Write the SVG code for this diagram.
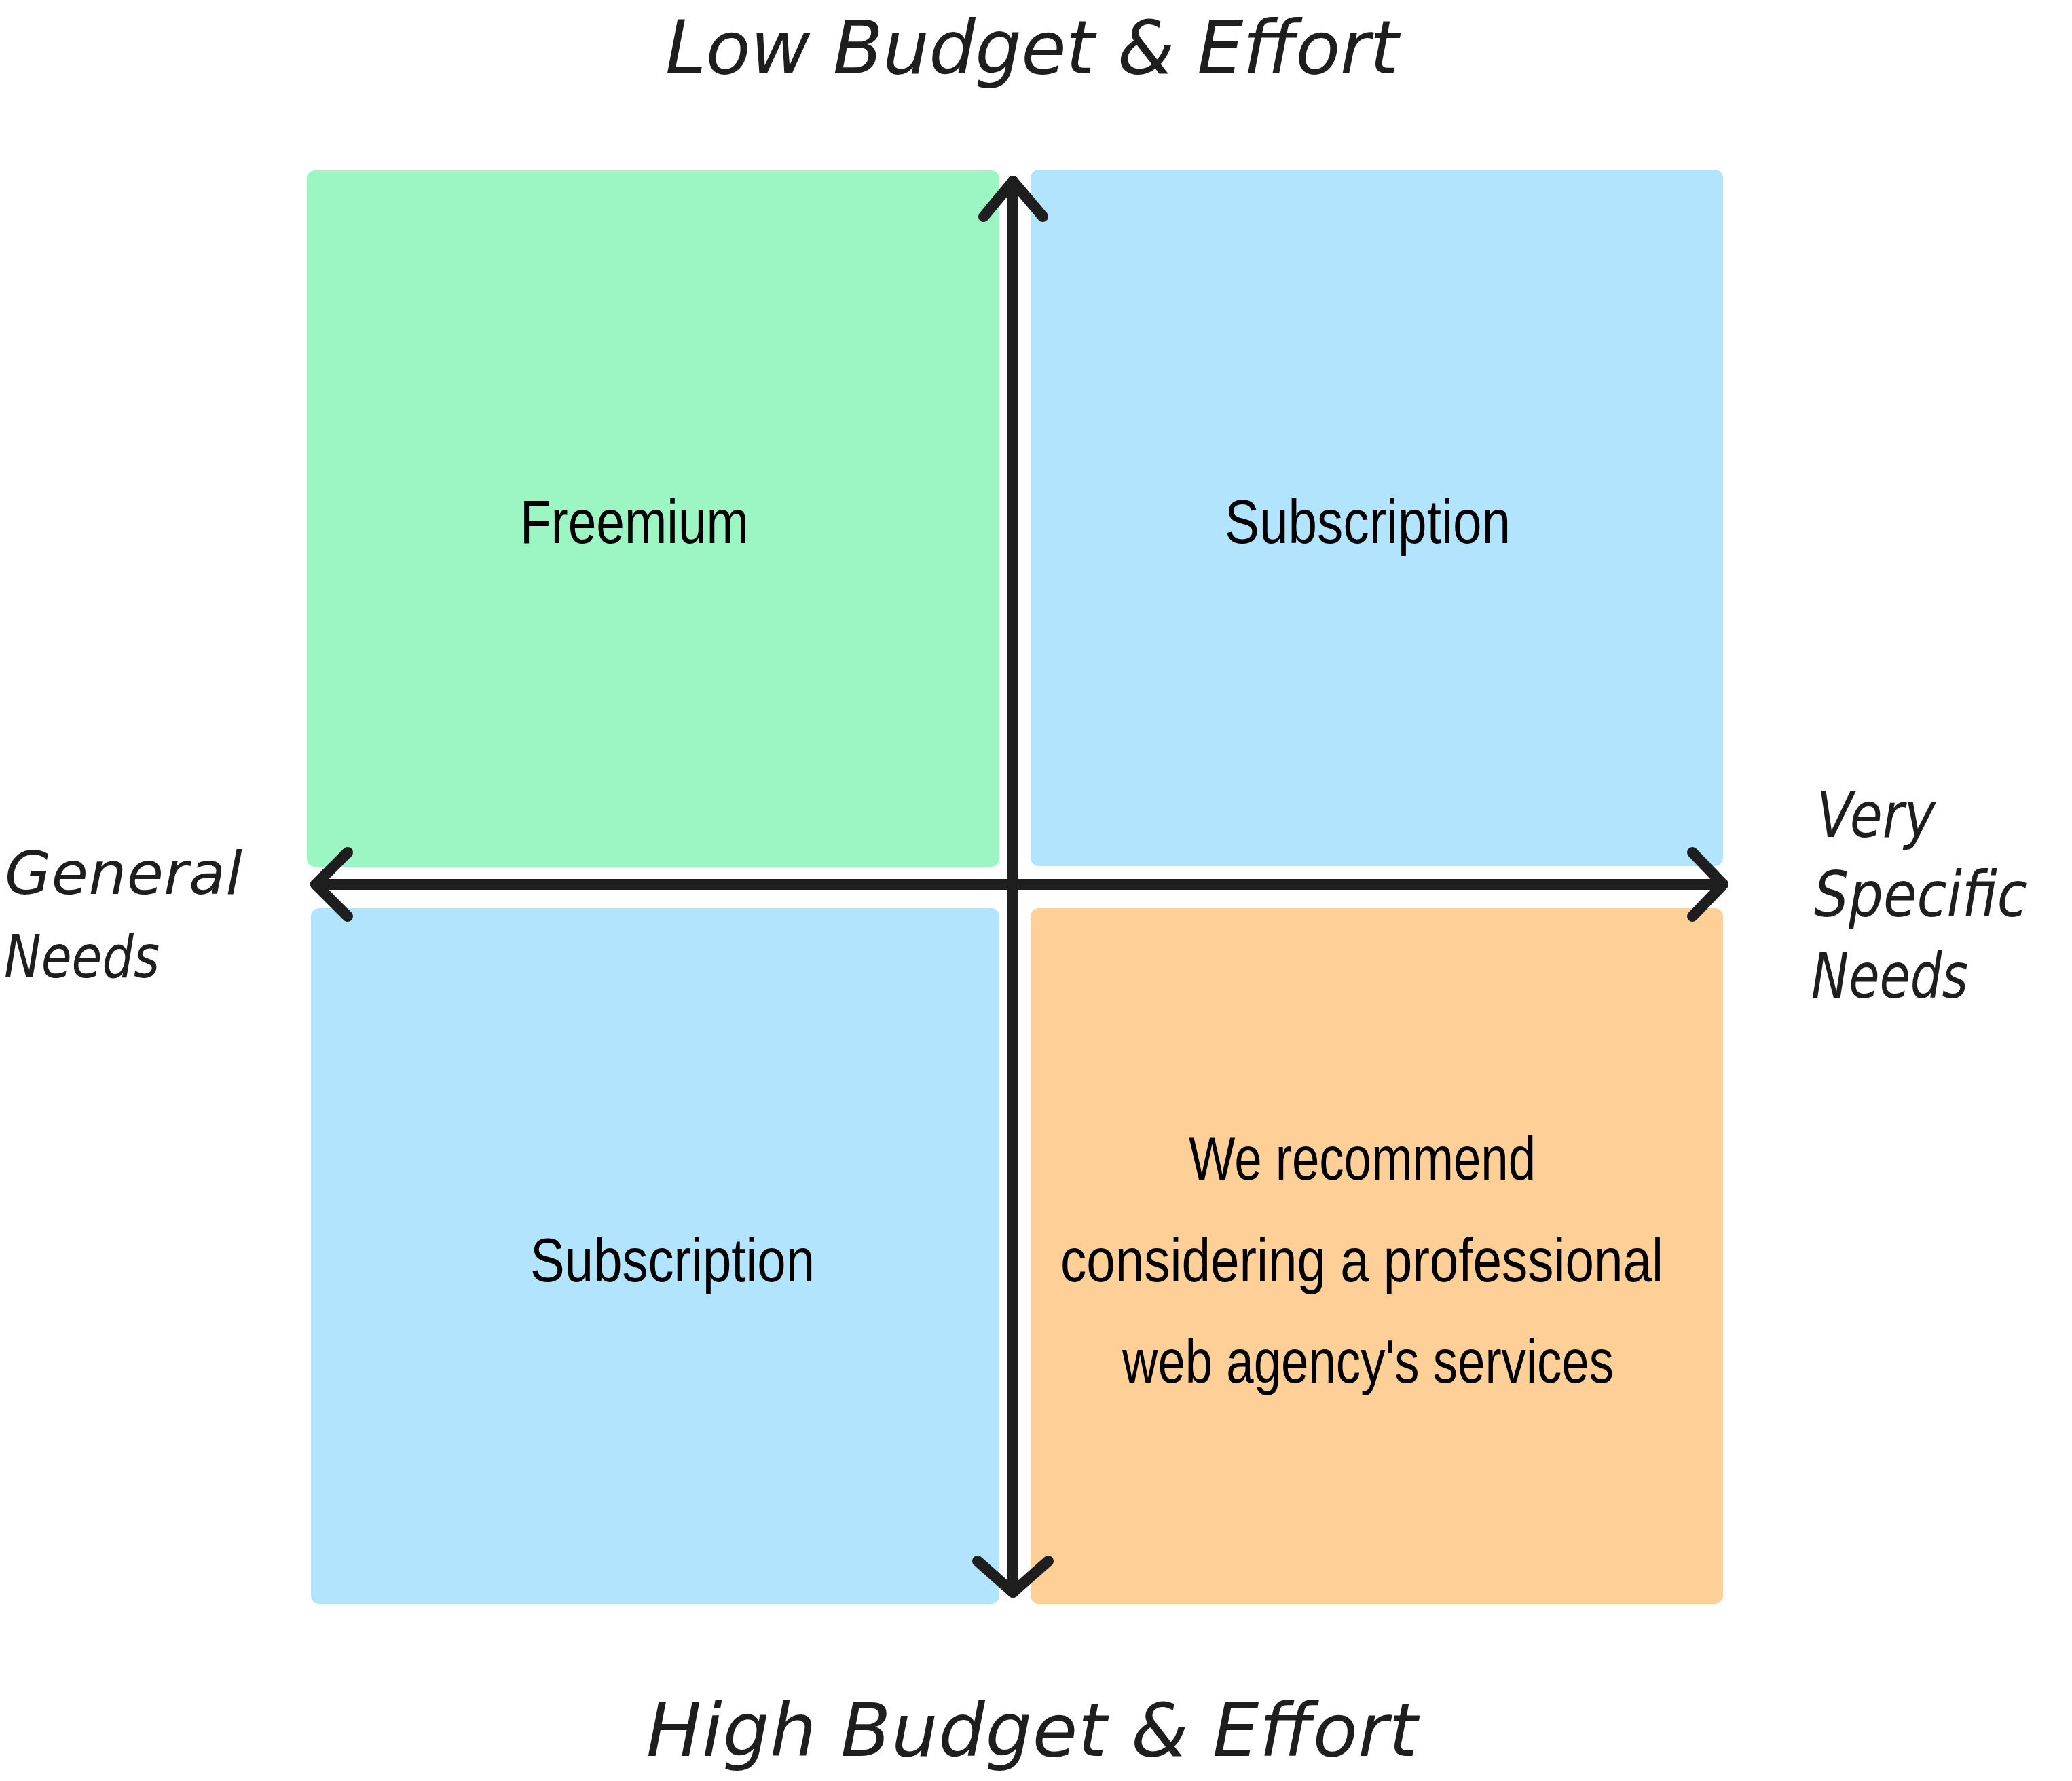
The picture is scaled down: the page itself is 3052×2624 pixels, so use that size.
<svg xmlns="http://www.w3.org/2000/svg" width="3052" height="2624" viewBox="0 0 3052 2624">
<style>
.q{stroke:none}
.green{fill:#9bf6c3}
.blue{fill:#b3e4fe}
.orange{fill:#fecf96}
.lbl{font-family:"Liberation Sans","DejaVu Sans",sans-serif;font-size:90px;fill:#000}
.hand{font-family:"DejaVu Sans ExtraLight","DejaVu Sans","Liberation Sans",sans-serif;font-weight:200;font-style:oblique;fill:#1e1e1e}
.ax{fill:none;stroke:#1e1e1e;stroke-width:16;stroke-linecap:round;stroke-linejoin:round}
</style>
<rect width="3052" height="2624" fill="#ffffff"/>
<g id="q-freemium">
<rect class="q green" x="452" y="251" width="1020" height="1026" rx="12"/>
<text class="lbl" x="766" y="800" textLength="337" lengthAdjust="spacingAndGlyphs">Freemium</text>
</g>
<g id="q-subscription-top">
<rect class="q blue" x="1518" y="250" width="1020" height="1026" rx="12"/>
<text class="lbl" x="1804" y="800" textLength="421" lengthAdjust="spacingAndGlyphs">Subscription</text>
</g>
<g id="q-subscription-bottom">
<rect class="q blue" x="458" y="1338" width="1014" height="1025" rx="12"/>
<text class="lbl" x="781" y="1888" textLength="419" lengthAdjust="spacingAndGlyphs">Subscription</text>
</g>
<g id="q-agency">
<rect class="q orange" x="1518" y="1338" width="1020" height="1025" rx="12"/>
<text class="lbl" x="1751" y="1738" textLength="511" lengthAdjust="spacingAndGlyphs">We recommend</text>
<text class="lbl" x="1562" y="1888" textLength="888" lengthAdjust="spacingAndGlyphs">considering a professional</text>
<text class="lbl" x="1653" y="2037" textLength="724" lengthAdjust="spacingAndGlyphs">web agency's services</text>
</g>
<g id="connectors">
<path class="ax" d="M1492,267 L1492,2346"/>
<path class="ax" d="M1449,319 L1492,267 L1536,319"/>
<path class="ax" d="M1440,2300 L1492,2346 L1544,2300"/>
<path class="ax" d="M465,1303 L2538,1303"/>
<path class="ax" d="M512,1256 L465,1303 L512,1350"/>
<path class="ax" d="M2493,1256 L2538,1303 L2493,1350"/>
</g>
<g id="label-top">
<text class="hand" x="980" y="108" font-size="108" textLength="1080">Low Budget &amp; Effort</text>
</g>
<g id="label-bottom">
<text class="hand" x="952" y="2587" font-size="108" textLength="1136">High Budget &amp; Effort</text>
</g>
<g id="label-left">
<text class="hand" x="7" y="1317" font-size="88" textLength="350">General</text>
<text class="hand" x="6" y="1440" font-size="88" textLength="229" lengthAdjust="spacingAndGlyphs">Needs</text>
</g>
<g id="label-right">
<text class="hand" x="2676" y="1233" font-size="92" textLength="175" lengthAdjust="spacingAndGlyphs">Very</text>
<text class="hand" x="2672" y="1350" font-size="92" textLength="314" lengthAdjust="spacingAndGlyphs">Specific</text>
<text class="hand" x="2668" y="1470" font-size="92" textLength="231" lengthAdjust="spacingAndGlyphs">Needs</text>
</g>
</svg>
